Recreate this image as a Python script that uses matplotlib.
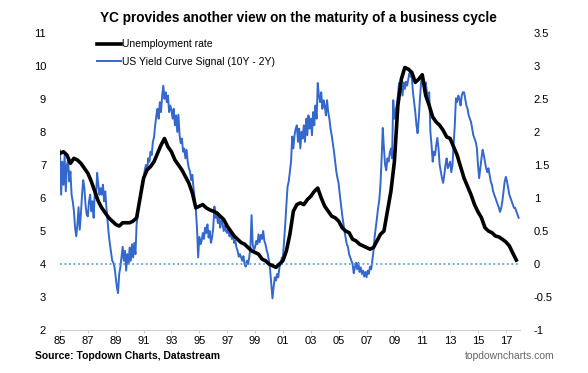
import numpy as np
import matplotlib
matplotlib.use("Agg")
import matplotlib.pyplot as plt
from matplotlib.ticker import FormatStrFormatter

plt.rcParams['font.family'] = ['Liberation Sans', 'DejaVu Sans']

# unemployment rate, quarterly from 1985 Q1 (left axis, %)
unemp = [
    7.35, 7.40, 7.30, 7.05,  7.20, 7.15, 7.05, 6.90,  6.75, 6.50, 6.20, 5.90,
    5.70, 5.55, 5.40, 5.30,  5.20, 5.15, 5.25, 5.25,  5.25, 5.30, 5.40, 6.00,
    6.60, 6.85, 6.95, 7.10,  7.35, 7.60, 7.80, 7.55,  7.40, 7.15, 7.00, 6.85,
    6.65, 6.45, 6.15, 5.70,  5.75, 5.80, 5.70, 5.64,  5.60, 5.55, 5.45, 5.35,
    5.15, 5.00, 4.85, 4.75,  4.65, 4.60, 4.50, 4.40,  4.35, 4.30, 4.15, 4.10,
    4.00, 3.95, 3.90, 4.00,  4.10, 4.40, 4.90, 5.60,  5.80, 5.85, 5.80, 5.95,
    6.05, 6.20, 6.30, 6.00,  5.75, 5.60, 5.45, 5.40,  5.30, 5.10, 5.00, 4.95,
    4.75, 4.70, 4.60, 4.55,  4.50, 4.45, 4.50, 4.70,  4.90, 5.00, 5.60, 6.20,
    7.10, 8.80, 9.60, 9.95,  9.90, 9.80, 9.50, 9.60,  9.73, 9.10, 8.80, 8.45,
    8.30, 8.20, 8.05, 7.85,  7.80, 7.55, 7.30, 6.95,  6.60, 6.35, 6.10, 5.80,
    5.58, 5.40, 5.10, 5.00,  4.95, 4.85, 4.82, 4.75,  4.67, 4.55, 4.33, 4.12,
]

# 10Y - 2Y spread, monthly from Jan 1985 (right axis, %)
spread = [
    1.72, 1.05, 1.55, 1.20, 1.65, 1.10, 1.50, 1.58, 1.25, 1.40, 1.05, 0.95,  # 85
    0.80, 0.55, 0.42, 0.60, 0.86, 0.52, 0.75, 1.05, 1.27, 1.15, 0.90, 0.75,  # 86
    0.72, 0.95, 1.05, 0.80, 0.95, 0.70, 1.10, 1.00, 1.38, 1.20, 1.05, 1.15,  # 87
    1.05, 1.20, 0.95, 1.10, 0.85, 0.65, 0.45, 0.30, 0.18, 0.05, 0.02, -0.05,  # 88
    -0.20, -0.35, -0.44, -0.15, -0.05, 0.10, 0.26, 0.05, 0.20, -0.10, 0.15, 0.00,  # 89
    0.25, 0.05, 0.30, 0.10, 0.32, 0.15, 0.60, 0.75, 0.90, 1.00, 1.15, 1.25,  # 90
    1.30, 1.42, 1.50, 1.40, 1.60, 1.55, 1.70, 1.65, 1.85, 1.92, 2.10, 2.25,  # 91
    2.35, 2.20, 2.45, 2.30, 2.55, 2.70, 2.50, 2.60, 2.45, 2.55, 2.30, 2.40,  # 92
    2.33, 2.20, 2.35, 2.10, 2.25, 2.00, 2.26, 1.95, 1.83, 1.90, 1.70, 1.75,  # 93
    1.60, 1.73, 1.55, 1.45, 1.40, 1.27, 1.35, 1.15, 1.00, 0.82, 0.55, 0.10,  # 94
    0.41, 0.30, 0.35, 0.47, 0.38, 0.55, 0.47, 0.60, 0.40, 0.50, 0.32, 0.40,  # 95
    0.55, 0.87, 0.70, 0.75, 0.62, 0.72, 0.55, 0.66, 0.62, 0.50, 0.58, 0.50,  # 96
    0.47, 0.55, 0.42, 0.50, 0.38, 0.45, 0.32, 0.35, 0.25, 0.20, 0.11, 0.15,  # 97
    0.10, 0.05, 0.12, 0.00, -0.04, 0.05, 0.00, 0.10, 0.25, 0.74, 0.30, 0.21,  # 98
    0.25, 0.35, 0.30, 0.45, 0.33, 0.44, 0.38, 0.50, 0.35, 0.30, 0.21, 0.15,  # 99
    0.05, -0.09, -0.30, -0.52, -0.35, -0.20, -0.25, -0.15, -0.20, -0.05, 0.00, 0.10,  # 00
    0.10, 0.35, 0.60, 0.90, 1.17, 1.25, 1.40, 1.55, 1.93, 1.75, 1.95, 2.05,  # 01
    2.10, 1.85, 2.05, 1.75, 2.00, 1.90, 2.10, 1.85, 2.20, 1.95, 2.25, 2.05,  # 02
    2.20, 1.95, 2.30, 2.10, 2.40, 2.20, 2.74, 2.55, 2.45, 2.60, 2.35, 2.48,  # 03
    2.40, 2.25, 2.48, 2.30, 2.20, 2.05, 1.95, 1.83, 1.70, 1.55, 1.40, 1.30,  # 04
    1.22, 1.05, 0.90, 0.75, 0.62, 0.50, 0.40, 0.30, 0.26, 0.15, 0.10, 0.05,  # 05
    0.00, -0.14, -0.05, 0.02, -0.08, 0.02, -0.12, -0.05, -0.15, -0.10, -0.19, -0.12,  # 06
    -0.20, -0.10, -0.15, -0.04, -0.08, 0.05, 0.20, 0.41, 0.55, 0.70, 0.85, 0.97,  # 07
    1.20, 1.60, 2.06, 1.75, 1.50, 1.42, 1.60, 1.55, 1.68, 1.75, 1.60, 2.48,  # 08
    2.20, 2.33, 2.40, 2.55, 2.74, 2.60, 2.70, 2.55, 2.75, 2.65, 2.76, 2.70,  # 09
    2.80, 2.89, 2.84, 2.82, 2.60, 2.45, 2.30, 2.10, 1.98, 2.20, 2.50, 2.75,  # 10
    2.86, 2.80, 2.70, 2.75, 2.60, 2.50, 2.60, 2.00, 1.80, 1.55, 1.70, 1.65,  # 11
    1.80, 1.91, 1.75, 1.50, 1.40, 1.30, 1.23, 1.35, 1.50, 1.60, 1.45, 1.50,  # 12
    1.55, 1.39, 1.50, 1.80, 2.10, 2.51, 2.45, 2.55, 2.50, 2.40, 2.55, 2.60,  # 13
    2.60, 2.50, 2.40, 2.35, 2.25, 2.20, 2.15, 2.05, 1.95, 1.90, 1.85, 1.76,  # 14
    1.50, 1.30, 1.45, 1.60, 1.73, 1.65, 1.55, 1.45, 1.39, 1.45, 1.35, 1.25,  # 15
    1.20, 1.10, 1.05, 1.00, 0.95, 0.90, 0.85, 0.79, 0.85, 0.95, 1.10, 1.25,  # 16
    1.32, 1.25, 1.15, 1.05, 1.00, 0.95, 0.90, 0.85, 0.85, 0.80, 0.75, 0.70,  # 17
]

tick_years = list(range(1985, 2018, 2))
tick_labels = ["%02d" % (y % 100) for y in tick_years]

t_unemp = 1985 + np.arange(len(unemp)) / 4.0
t_spread = 1985 + np.arange(len(spread)) / 12.0

fig = plt.figure(figsize=(5.88, 3.73), dpi=100)
ax = fig.add_axes([0.102, 0.115, 0.782, 0.797])
ax2 = ax.twinx()

blue = "#3468cc"
ax2.plot(t_spread, spread, color=blue, lw=1.4, label="US Yield Curve Signal (10Y - 2Y)")
ax2.plot([1985, t_spread[-1]], [0, 0], color="#5aa5d6", lw=1.3, ls=(0, (1, 1.5)))
l1, = ax.plot(t_unemp, unemp, color="black", lw=2.6, label="Unemployment rate")

# black line above the blue one
ax.set_zorder(ax2.get_zorder() + 1)
ax.patch.set_visible(False)

ax.set_xlim(1985, 2018)
ax.set_ylim(2, 11)
ax2.set_ylim(-1, 3.5)
ax.set_yticks(range(2, 12))
ax2.set_yticks(np.arange(-1, 3.51, 0.5))
ax2.yaxis.set_major_formatter(FormatStrFormatter('%g'))
ax.set_xticks(tick_years)
ax.set_xticklabels(tick_labels)

for a in (ax, ax2):
    for s in a.spines.values():
        s.set_visible(False)
    a.tick_params(axis='y', length=0, labelsize=8)
ax.spines['bottom'].set_visible(True)
ax.spines['bottom'].set_color("#d0d0d0")
ax.tick_params(axis='x', length=2.5, color="#d0d0d0", labelsize=8, pad=2)
ax.tick_params(axis='y', pad=10)
ax2.tick_params(axis='y', pad=10)

h2 = ax2.get_lines()[0]
ax.legend([l1, h2], [l1.get_label(), h2.get_label()], loc='upper left',
          bbox_to_anchor=(0.165, 0.895), bbox_transform=fig.transFigure,
          frameon=False, fontsize=7.5, handlelength=2.3, handletextpad=0.1,
          borderpad=0, borderaxespad=0, labelspacing=0.75)

fig.text(0.507, 0.952, "YC provides another view on the maturity of a business cycle",
         ha='center', va='center', fontsize=9.8, fontweight='bold')
fig.text(0.06, 0.045, "Source: Topdown Charts, Datastream", ha='left', va='center',
         fontsize=7.5, fontweight='bold')
fig.text(0.943, 0.045, "topdowncharts.com", ha='right', va='center',
         fontsize=7.5, color="#666666")

fig.savefig("out.png", dpi=100)
